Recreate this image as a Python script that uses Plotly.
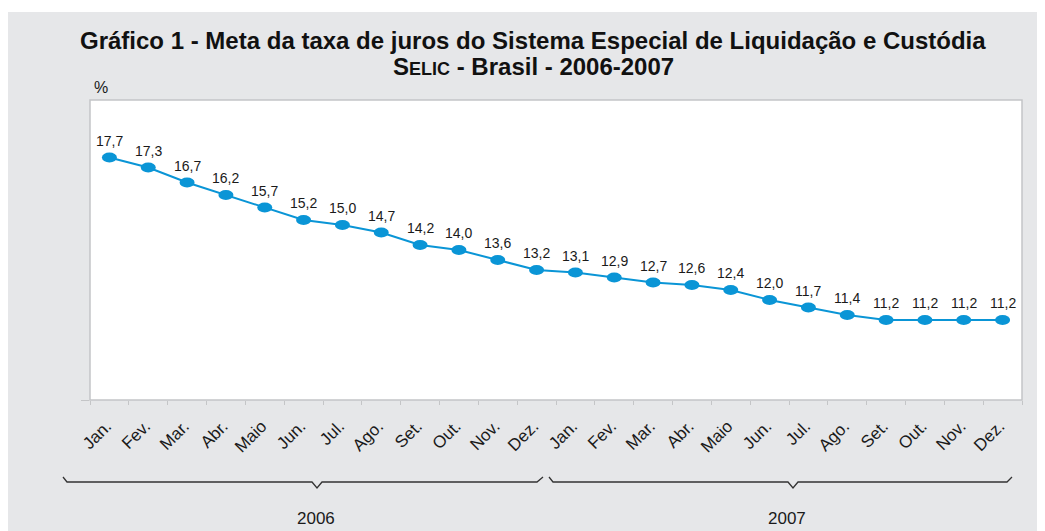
import plotly.graph_objects as go

months = ["Jan.", "Fev.", "Mar.", "Abr.", "Maio", "Jun.", "Jul.", "Ago.", "Set.", "Out.", "Nov.", "Dez."]
years = ["2006", "2007"]
selic = [17.7, 17.3, 16.7, 16.2, 15.7, 15.2, 15.0, 14.7, 14.2, 14.0, 13.6, 13.2,
         13.1, 12.9, 12.7, 12.6, 12.4, 12.0, 11.7, 11.4, 11.2, 11.2, 11.2, 11.2]

cats = [f"{m}|{y}" for y in years for m in months]
labels = [m for y in years for m in months]
val_text = [f"{v:.1f}".replace(".", ",") for v in selic]

# the page body has an 8px margin: work in screen pixels and convert
OFF = 8
W, H = 1045 - OFF, 531 - OFF
SL, SR, ST, SB = 90, 1022, 100, 400          # plot area in screen pixels
L, T = SL - OFF, ST - OFF
R, B = W - (SR - OFF), H - (SB - OFF)
PW, PH = W - L - R, H - T - B

def px(sx):
    return (sx - OFF - L) / PW

def py(sy):
    return (H - B - (sy - OFF)) / PH

BLUE = "#0a95d6"
GRAY_BG = "#e6e7e9"
BORDER = "#c4c5c7"
FONT = "Liberation Sans"
TXT = "#1a1a1a"

fig = go.Figure()
fig.add_trace(go.Scatter(
    x=cats, y=selic, mode="lines",
    line=dict(color=BLUE, width=2),
    hoverinfo="skip", showlegend=False,
))

shapes = [
    dict(type="rect", xref="paper", yref="paper", x0=px(0), x1=px(1060), y0=py(12), y1=py(545),
         fillcolor=GRAY_BG, line=dict(width=0), layer="below"),
    dict(type="rect", xref="paper", yref="paper", x0=0, x1=1, y0=0, y1=1,
         fillcolor="white", line=dict(color=BORDER, width=1.5), layer="below"),
]
for c, v in zip(cats, selic):
    shapes.append(dict(type="circle", xref="x", yref="y",
                       xsizemode="pixel", ysizemode="pixel", xanchor=c, yanchor=v,
                       x0=-7.5, x1=7.5, y0=-5, y1=5,
                       fillcolor=BLUE, line=dict(width=0), layer="above"))

# year brackets (screen-pixel geometry)
brackets = [
    (63, 67, 312, 317, 322, 537, 543),
    (549, 553, 788, 793, 798, 1007, 1012),
]
for a, b, n0, n, n1, e0, e in brackets:
    path = (f"M {px(a)},{py(477)} L {px(b)},{py(482)} L {px(n0)},{py(482)} L {px(n)},{py(488)} "
            f"L {px(n1)},{py(482)} L {px(e0)},{py(482)} L {px(e)},{py(477)}")
    shapes.append(dict(type="path", xref="paper", yref="paper", path=path,
                       line=dict(color="#333333", width=1.3)))

annotations = []
for c, v, t in zip(cats, selic, val_text):
    annotations.append(dict(x=c, y=v, text=t, showarrow=False, yshift=17,
                            font=dict(family=FONT, size=14, color=TXT)))
annotations.append(dict(x=px(101), y=py(87), xref="paper", yref="paper", text="%",
                        showarrow=False, xanchor="center", yanchor="middle",
                        font=dict(family=FONT, size=16, color=TXT)))
for yr, xc in zip(years, [316, 787]):
    annotations.append(dict(x=px(xc), y=py(518), xref="paper", yref="paper", text=yr,
                            showarrow=False, xanchor="center", yanchor="middle",
                            font=dict(family=FONT, size=17, color=TXT)))
title_lines = [
    ("Gráfico 1 - Meta da taxa de juros do Sistema Especial de Liquidação e Custódia", 40),
    ("S<span style='font-size:18px'>ELIC</span> - Brasil - 2006-2007", 67),
]
for txt, yc in title_lines:
    annotations.append(dict(x=px(533), y=py(yc), xref="paper", yref="paper", text=f"<b>{txt}</b>",
                            showarrow=False, xanchor="center", yanchor="middle",
                            font=dict(family=FONT, size=24, color="#111111")))

fig.update_layout(
    width=W, height=H,
    margin=dict(l=L, r=R, t=T, b=B),
    paper_bgcolor="white", plot_bgcolor="rgba(0,0,0,0)",
    shapes=shapes,
    annotations=annotations,
    xaxis=dict(
        type="category", categoryorder="array", categoryarray=cats,
        tickmode="array", tickvals=cats, ticktext=labels,
        tickangle=-45, tickfont=dict(family=FONT, size=17, color=TXT),
        ticks="outside", ticklen=4, tickcolor=BORDER, tickwidth=1,
        tickson="boundaries", ticklabelstandoff=12, ticklabelshift=-3,
        showline=False, showgrid=False, zeroline=False,
        range=[-0.5, 23.5], fixedrange=True,
    ),
    yaxis=dict(
        range=[8, 20], tickvals=[8], ticktext=[""],
        ticks="outside", ticklen=8, tickcolor=BORDER,
        showline=False, showgrid=False, zeroline=False, showticklabels=False,
        fixedrange=True,
    ),
)

fig.write_html("out.html")
